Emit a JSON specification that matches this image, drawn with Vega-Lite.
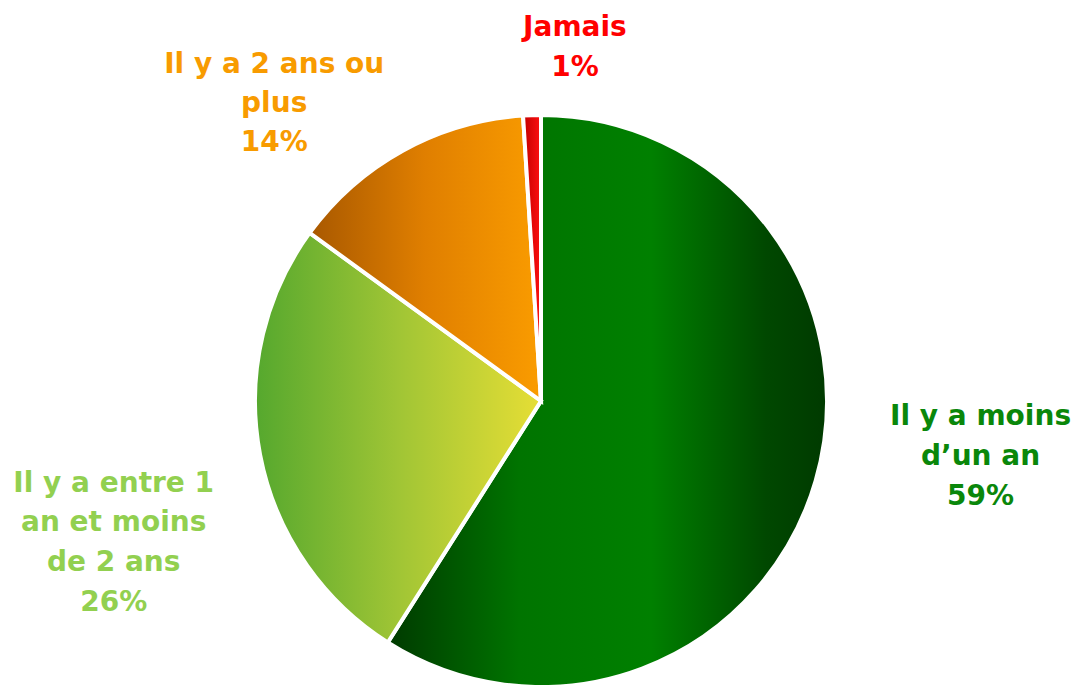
{
  "$schema": "https://vega.github.io/schema/vega-lite/v6.json",
  "width": 1076,
  "height": 568,
  "autosize": {"type": "none"},
  "padding": {"left": 3, "top": 117, "right": 0, "bottom": 0},
  "background": "white",
  "config": {"view": {"stroke": null}},
  "data": {
    "values": [
      {"cat": "moins", "ord": 1, "value": 59, "label": "Il y a moins\nd’un an\n59%"},
      {"cat": "entre", "ord": 2, "value": 26, "label": "Il y a entre 1\nan et moins\nde 2 ans\n26%"},
      {"cat": "plus", "ord": 3, "value": 14, "label": "Il y a 2 ans ou\nplus\n14%"},
      {"cat": "jamais", "ord": 4, "value": 1, "label": "Jamais\n1%"}
    ]
  },
  "encoding": {
    "theta": {"field": "value", "type": "quantitative", "stack": true},
    "order": {"field": "ord", "type": "quantitative"}
  },
  "layer": [
    {
      "mark": {"type": "arc", "outerRadius": 286, "stroke": "white", "strokeWidth": 4},
      "encoding": {
        "fill": {
          "condition": [
            {"test": "datum.cat === 'moins'", "value": {"gradient": "linear", "x1": 0, "y1": 0, "x2": 1, "y2": 0, "stops": [
              {"offset": 0, "color": "#003a00"},
              {"offset": 0.3, "color": "#007400"},
              {"offset": 0.6, "color": "#008000"},
              {"offset": 0.86, "color": "#004800"},
              {"offset": 1, "color": "#003a00"}]}},
            {"test": "datum.cat === 'entre'", "value": {"gradient": "linear", "x1": 0, "y1": 0, "x2": 1, "y2": 0, "stops": [
              {"offset": 0, "color": "#55a82e"},
              {"offset": 0.5, "color": "#a0c535"},
              {"offset": 1, "color": "#e6de35"}]}},
            {"test": "datum.cat === 'plus'", "value": {"gradient": "linear", "x1": 0, "y1": 0, "x2": 1, "y2": 0, "stops": [
              {"offset": 0, "color": "#a85800"},
              {"offset": 0.5, "color": "#e07f00"},
              {"offset": 1, "color": "#fa9c00"}]}}
          ],
          "value": {"gradient": "linear", "x1": 0, "y1": 0, "x2": 1, "y2": 0, "stops": [
            {"offset": 0, "color": "#c00000"},
            {"offset": 1, "color": "#ff1010"}]}
        }
      }
    },
    {
      "mark": {"type": "text", "radius": 440, "dx": 17, "dy": -107, "lineBreak": "\n", "lineHeight": 40, "font": "DejaVu Sans", "fontWeight": "bold", "fontSize": 28, "align": "center", "baseline": "middle", "color": "#0a870a"},
      "encoding": {"text": {"condition": {"test": "datum.cat === 'moins'", "field": "label", "type": "nominal"}, "value": ""}}
    },
    {
      "mark": {"type": "text", "radius": 435, "dx": 0, "dy": 1, "lineBreak": "\n", "lineHeight": 39.7, "font": "DejaVu Sans", "fontWeight": "bold", "fontSize": 28, "align": "center", "baseline": "middle", "color": "#92d050"},
      "encoding": {"text": {"condition": {"test": "datum.cat === 'entre'", "field": "label", "type": "nominal"}, "value": ""}}
    },
    {
      "mark": {"type": "text", "radius": 340, "dx": -103, "dy": -38, "lineBreak": "\n", "lineHeight": 39, "font": "DejaVu Sans", "fontWeight": "bold", "fontSize": 28, "align": "center", "baseline": "middle", "color": "#f89b00"},
      "encoding": {"text": {"condition": {"test": "datum.cat === 'plus'", "field": "label", "type": "nominal"}, "value": ""}}
    },
    {
      "mark": {"type": "text", "radius": 353, "dx": 45, "dy": -20, "lineBreak": "\n", "lineHeight": 40, "font": "DejaVu Sans", "fontWeight": "bold", "fontSize": 28, "align": "center", "baseline": "middle", "color": "#ff0000"},
      "encoding": {"text": {"condition": {"test": "datum.cat === 'jamais'", "field": "label", "type": "nominal"}, "value": ""}}
    }
  ]
}
